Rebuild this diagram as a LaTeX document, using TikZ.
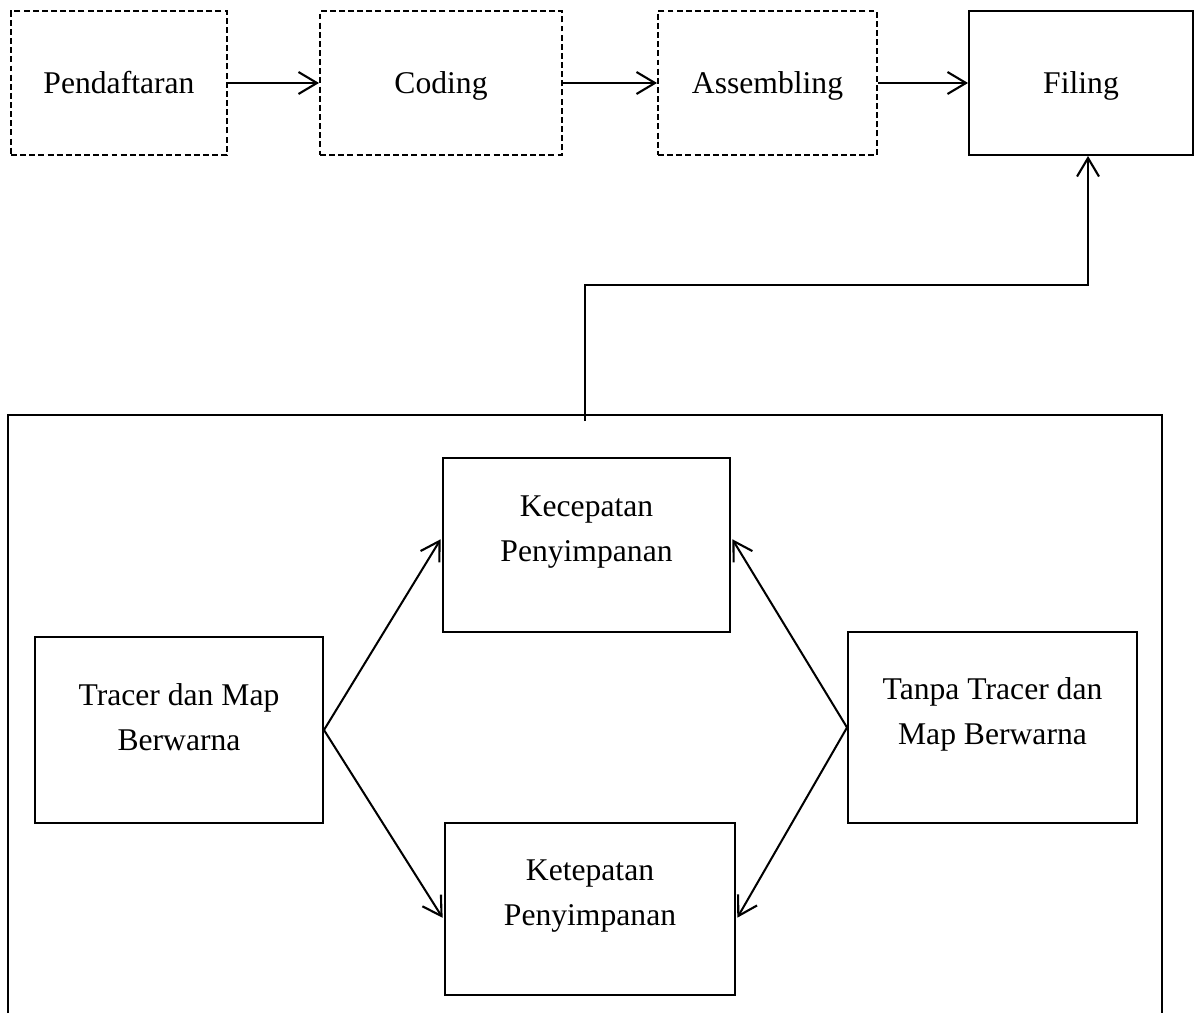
\documentclass[tikz,border=0pt]{standalone}
\usepackage{fontspec}
\setmainfont{Liberation Serif}
\usetikzlibrary{arrows.meta,positioning,calc}

\begin{document}
\begin{tikzpicture}[x=0.02cm, y=-0.02cm, line width=1.15pt,
    box/.style={draw, inner sep=0pt, minimum height=2.88cm},
    dbox/.style={box, dash pattern=on 3.4pt off 1.8pt},
    lbl/.style={font=\fontsize{18}{25.5}\selectfont, align=center},
    toplbl/.style={lbl, text height=15pt, text depth=3.6pt},
    arr/.style={-{Straight Barb[length=10.5pt, width=12.5pt, line width=1.2pt]}}]
            \useasboundingbox (0,0) rectangle (1195,1013);

            % alur berkas
            \node[dbox, toplbl, minimum width=4.32cm] (pend) at (119,83) {Pendaftaran};
            \node[dbox, toplbl, minimum width=4.84cm] (cod) at (441,83) {Coding};
            \node[dbox, toplbl, minimum width=4.38cm] (asm) at (767.5,83) {Assembling};
            \node[box, toplbl, minimum width=4.48cm] (fil) at (1081,83) {Filing};
            \draw[arr] (pend) -- (cod);
            \draw[arr] (cod) -- (asm);
            \draw[arr] (asm) -- (fil);

            % kelompok penyimpanan
            \draw (8,1013) -- (8,415) -- (1162,415) -- (1162,1013);
            \coordinate (grp) at (585,421);
            \draw[arr] (grp) -- ++(0,-136) -| ([xshift=0.14cm]fil.south);

            \node[box, minimum width=5.74cm, minimum height=3.48cm] (kec) at (586.5,545) {};
            \node[lbl] (kec-t) at ([yshift=0.26cm]kec.center) {Kecepatan\\Penyimpanan};
            \node[box, minimum width=5.76cm, minimum height=3.72cm] (trc) at (179,730) {};
            \node[lbl] (trc-t) at ([yshift=0.26cm]trc.center) {Tracer dan Map\\Berwarna};
            \node[box, minimum width=5.78cm, minimum height=3.82cm] (tnp) at (992.5,727.5) {};
            \node[lbl] (tnp-t) at ([yshift=0.26cm]tnp.center) {Tanpa Tracer dan\\Map Berwarna};
            \node[box, minimum width=5.80cm, minimum height=3.44cm] (ket) at (590,909) {};
            \node[lbl] (ket-t) at ([yshift=0.26cm]ket.center) {Ketepatan\\Penyimpanan};

            \draw[arr, shorten >=1.5pt] (trc.east) -- ([yshift=0.16cm]kec.west);
            \draw[arr, shorten >=1.5pt] (trc.east) -- ([yshift=-0.22cm]ket.west);
            \draw[arr, shorten >=1.5pt] (tnp.west) -- ([yshift=0.16cm]kec.east);
            \draw[arr, shorten >=1.5pt] (tnp.west) -- ([yshift=-0.22cm]ket.east);
        \end{tikzpicture}
\end{document}
